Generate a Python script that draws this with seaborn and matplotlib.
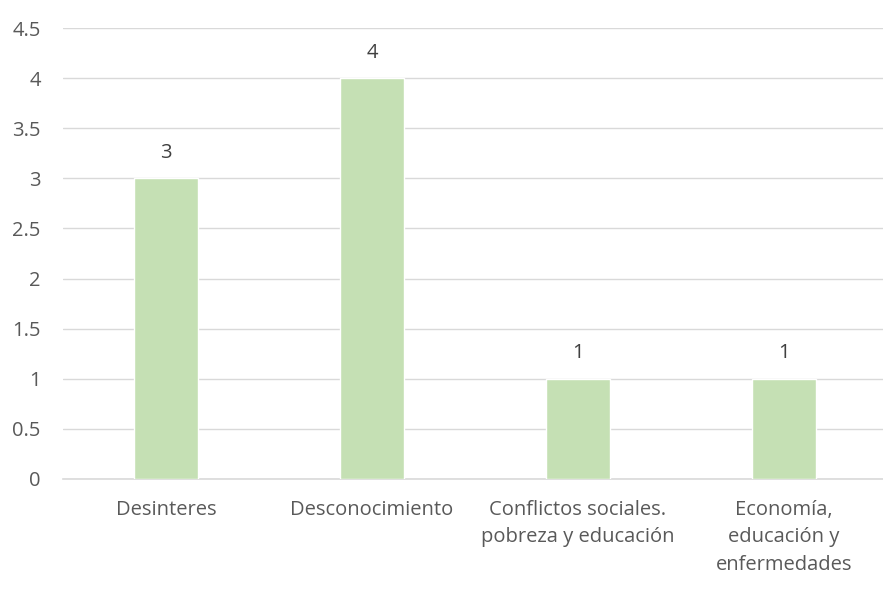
import matplotlib
matplotlib.use("Agg")
import matplotlib.pyplot as plt
import seaborn as sns
import pandas as pd

categories = ["Desinteres", "Desconocimiento", "Conflictos sociales.\npobreza y educación", "Economía,\neducación y\nenfermedades"]
values = [3, 4, 1, 1]

sns.set_style("white")
plt.rcParams['font.family'] = ['Open Sans', 'DejaVu Sans']

df = pd.DataFrame({"cat": categories, "val": values})

fig = plt.figure(figsize=(8.83, 5.95), dpi=100)
ax = fig.add_axes([63/883, (595-479)/595, (887-63)/883, (479-28)/595])
sns.barplot(data=df, x="cat", y="val", color="#C5E0B4", width=0.31, ax=ax, saturation=1, zorder=3)

ax.set_ylim(0, 4.5)
ax.set_xlim(-0.5, 3.5)
ax.set_yticks([0, 0.5, 1, 1.5, 2, 2.5, 3, 3.5, 4, 4.5])
ax.set_yticklabels(["0", "0.5", "1", "1.5", "2", "2.5", "3", "3.5", "4", "4.5"])
ax.yaxis.grid(True, color="#D9D9D9", linewidth=1, zorder=0)
ax.set_axisbelow(True)
for s in ["top", "right", "left"]:
    ax.spines[s].set_visible(False)
ax.spines["bottom"].set_color("#D9D9D9")
ax.spines["bottom"].set_linewidth(1.2)
ax.set_xlabel("")
ax.set_ylabel("")
ax.tick_params(axis="both", length=0, labelsize=14.5, labelcolor="#595959")
ax.tick_params(axis="x", pad=15)
ax.tick_params(axis="y", pad=16)
for lbl in ax.get_yticklabels():
    lbl.set_horizontalalignment("right")
for lbl in ax.get_xticklabels():
    lbl.set_linespacing(1.5)

for c in ax.containers:
    ax.bar_label(c, labels=[str(v) for v in values], padding=11, fontsize=14.5, color="#404040")

fig.savefig("out.png", dpi=100)
